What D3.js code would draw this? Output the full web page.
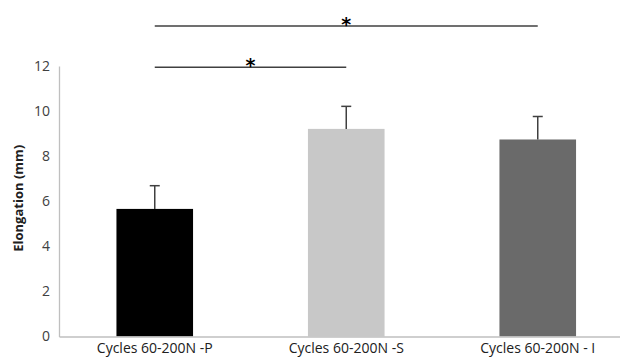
<!DOCTYPE html>
<html>
<head>
<meta charset="utf-8">
<script src="https://cdn.jsdelivr.net/npm/d3@7"></script>
<style>
    body { margin: 0; background: #fff; }
    svg { display: block; }
</style>
</head>
<body>
<svg id="chart"></svg>
<script>
// chart data
const categories = ["Cycles 60-200N -P", "Cycles 60-200N -S", "Cycles 60-200N - I"];
const means = [5.66, 9.21, 8.74];
const errors = [1.03, 1.0, 1.02];
const barColors = ["#000000", "#c8c8c8", "#6a6a6a"];
const yTicks = [0, 2, 4, 6, 8, 10, 12];
// significance brackets: from/to category, height in y units
const sigFrom = [0, 0];
const sigTo = [1, 2];
const sigLevel = [11.95, 13.78];

const W = 620, H = 360;
const margin = {top: 66, left: 59, bottom: 23};
const bandW = 191.5;

const svg = d3.select("#chart")
    .attr("width", W)
    .attr("height", H);

const x = d3.scaleBand()
    .domain(categories)
    .range([margin.left, margin.left + bandW * categories.length]);

const y = d3.scaleLinear()
    .domain([0, 12])
    .range([H - margin.bottom - 0.5, margin.top]);

const barW = x.bandwidth() * 0.4;
const cx = d => x(d) + x.bandwidth() / 2;

// bars
svg.selectAll("rect.bar")
    .data(categories)
    .join("rect")
    .attr("class", "bar")
    .attr("x", d => cx(d) - barW / 2)
    .attr("width", barW)
    .attr("y", (d, i) => y(means[i]))
    .attr("height", (d, i) => y(0) - y(means[i]))
    .attr("fill", (d, i) => barColors[i]);

// error bars (upper only)
const err = svg.append("g").attr("stroke", "#404040").attr("stroke-width", 1.5);
categories.forEach((c, i) => {
    err.append("line")
        .attr("x1", cx(c)).attr("x2", cx(c))
        .attr("y1", y(means[i])).attr("y2", y(means[i] + errors[i]));
    err.append("line")
        .attr("x1", cx(c) - 5).attr("x2", cx(c) + 5)
        .attr("y1", y(means[i] + errors[i])).attr("y2", y(means[i] + errors[i]));
});

// y axis
const yAxis = svg.append("g")
    .attr("transform", `translate(${margin.left},0)`)
    .call(d3.axisLeft(y).tickValues(yTicks).tickSize(0).tickPadding(9));
yAxis.select(".domain").attr("stroke", "#bfbfbf").attr("stroke-width", 1.3);
yAxis.selectAll("text")
    .attr("font-family", "'Open Sans', sans-serif")
    .attr("font-size", 14)
    .attr("fill", "#404040");

// x axis
const xAxis = svg.append("g")
    .attr("transform", `translate(0,${y(0)})`)
    .call(d3.axisBottom(x).tickSize(0).tickPadding(7));
xAxis.select(".domain").attr("stroke", "#bfbfbf").attr("stroke-width", 1.3);
xAxis.selectAll("text")
    .attr("font-family", "'Open Sans', sans-serif")
    .attr("font-size", 14)
    .attr("fill", "#202020");

// y axis title
svg.append("text")
    .attr("transform", `translate(23,${(y(0) + y(12)) / 2 - 3}) rotate(-90)`)
    .attr("text-anchor", "middle")
    .attr("font-family", "'Open Sans', sans-serif")
    .attr("font-weight", "bold")
    .attr("font-size", 13)
    .attr("fill", "#202020")
    .text("Elongation (mm)");

// significance brackets
sigFrom.forEach((f, i) => {
    const x1 = cx(categories[f]), x2 = cx(categories[sigTo[i]]);
    svg.append("line")
        .attr("x1", x1).attr("x2", x2)
        .attr("y1", y(sigLevel[i])).attr("y2", y(sigLevel[i]))
        .attr("stroke", "#404040")
        .attr("stroke-width", 1.5);
    svg.append("text")
        .attr("x", (x1 + x2) / 2)
        .attr("y", y(sigLevel[i]) + 5)
        .attr("text-anchor", "middle")
        .attr("font-family", "'DejaVu Sans', sans-serif")
        .attr("font-weight", "bold")
        .attr("font-size", 19)
        .attr("fill", "#000")
        .text("*");
});
</script>
</body>
</html>
